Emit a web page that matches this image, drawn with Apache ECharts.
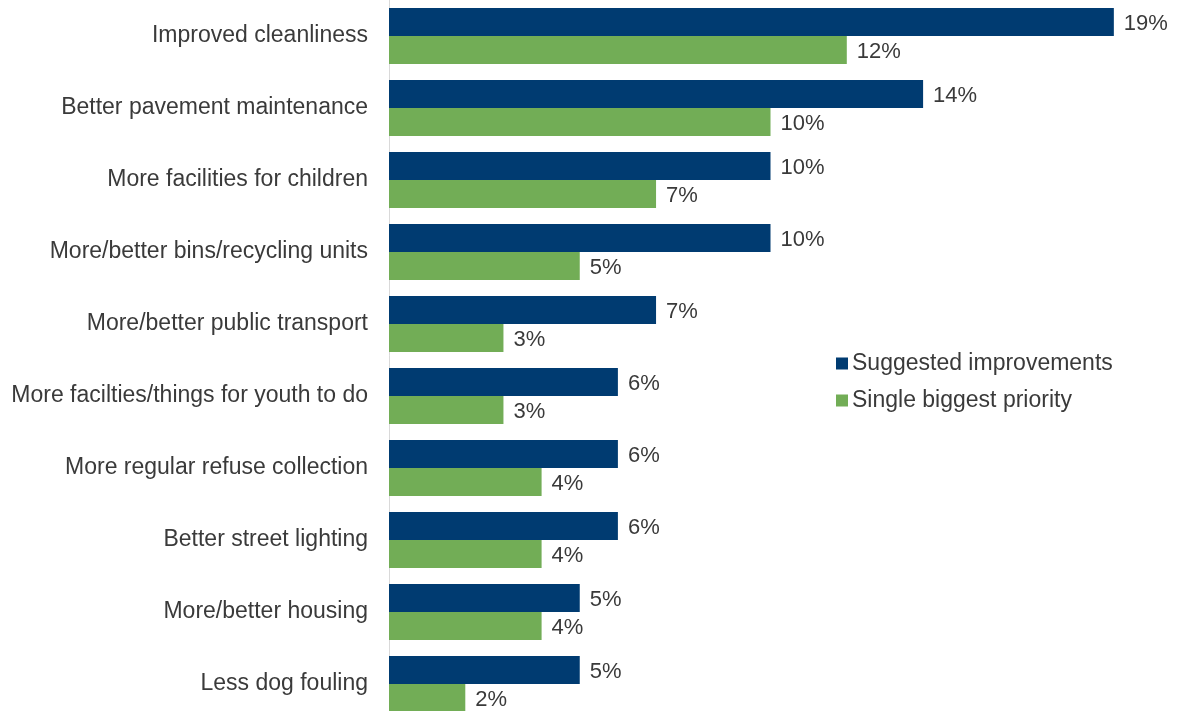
<!DOCTYPE html>
<html>
<head>
<meta charset="utf-8">
<script src="https://cdn.jsdelivr.net/npm/echarts@6/dist/echarts.min.js"></script>
<style>
  html, body { margin: 0; padding: 0; background: #fff; }
  #chart { width: 1177px; height: 711px; }
</style>
</head>
<body>
<div id="chart"></div>
<script>
// Survey responses: what would improve the local area (percent of respondents)
const categories = [
  'Improved cleanliness',
  'Better pavement maintenance',
  'More facilities for children',
  'More/better bins/recycling units',
  'More/better public transport',
  'More facilties/things for youth to do',
  'More regular refuse collection',
  'Better street lighting',
  'More/better housing',
  'Less dog fouling'
];
const suggestedImprovements = [19, 14, 10, 10, 7, 6, 6, 6, 5, 5];
const singleBiggestPriority = [12, 10, 7, 5, 3, 3, 4, 4, 4, 2];

const FONT = '"Liberation Sans", Arial, sans-serif';
const TEXT = '#3a3a3a';

const chart = echarts.init(document.getElementById('chart'), null, { renderer: 'canvas' });

const labelStyle = {
  show: true,
  position: 'right',
  distance: 10,
  offset: [0, 2],
  formatter: p => p.value + '%',
  fontSize: 22,
  fontFamily: FONT,
  color: TEXT
};

chart.setOption({
  animation: false,
  grid: {
    left: 389, top: 0, width: 763, height: 720,
    containLabel: false,
    outerBoundsMode: 'none'
  },
  xAxis: {
    type: 'value',
    min: 0,
    max: 20,
    show: false
  },
  yAxis: {
    type: 'category',
    data: categories,
    inverse: true,
    axisLine: { show: true, lineStyle: { color: '#d9d9d9', width: 1 } },
    axisTick: { show: false },
    axisLabel: { fontSize: 23, fontFamily: FONT, color: TEXT, margin: 21, padding: [2, 0, 0, 0] }
  },
  legend: {
    orient: 'vertical',
    left: 831,
    top: 347,
    icon: 'rect',
    itemWidth: 12,
    itemHeight: 12,
    itemGap: 14,
    textStyle: { fontSize: 23, fontFamily: FONT, color: TEXT, padding: [0, 0, 0, -1] },
    data: ['Suggested improvements', 'Single biggest priority']
  },
  series: [
    {
      name: 'Suggested improvements',
      type: 'bar',
      data: suggestedImprovements,
      barGap: '0%',
      barCategoryGap: '22.2%',
      itemStyle: { color: '#003B71' },
      label: labelStyle
    },
    {
      name: 'Single biggest priority',
      type: 'bar',
      data: singleBiggestPriority,
      barGap: '0%',
      barCategoryGap: '22.2%',
      itemStyle: { color: '#72AD56' },
      label: labelStyle
    }
  ]
});
</script>
</body>
</html>
